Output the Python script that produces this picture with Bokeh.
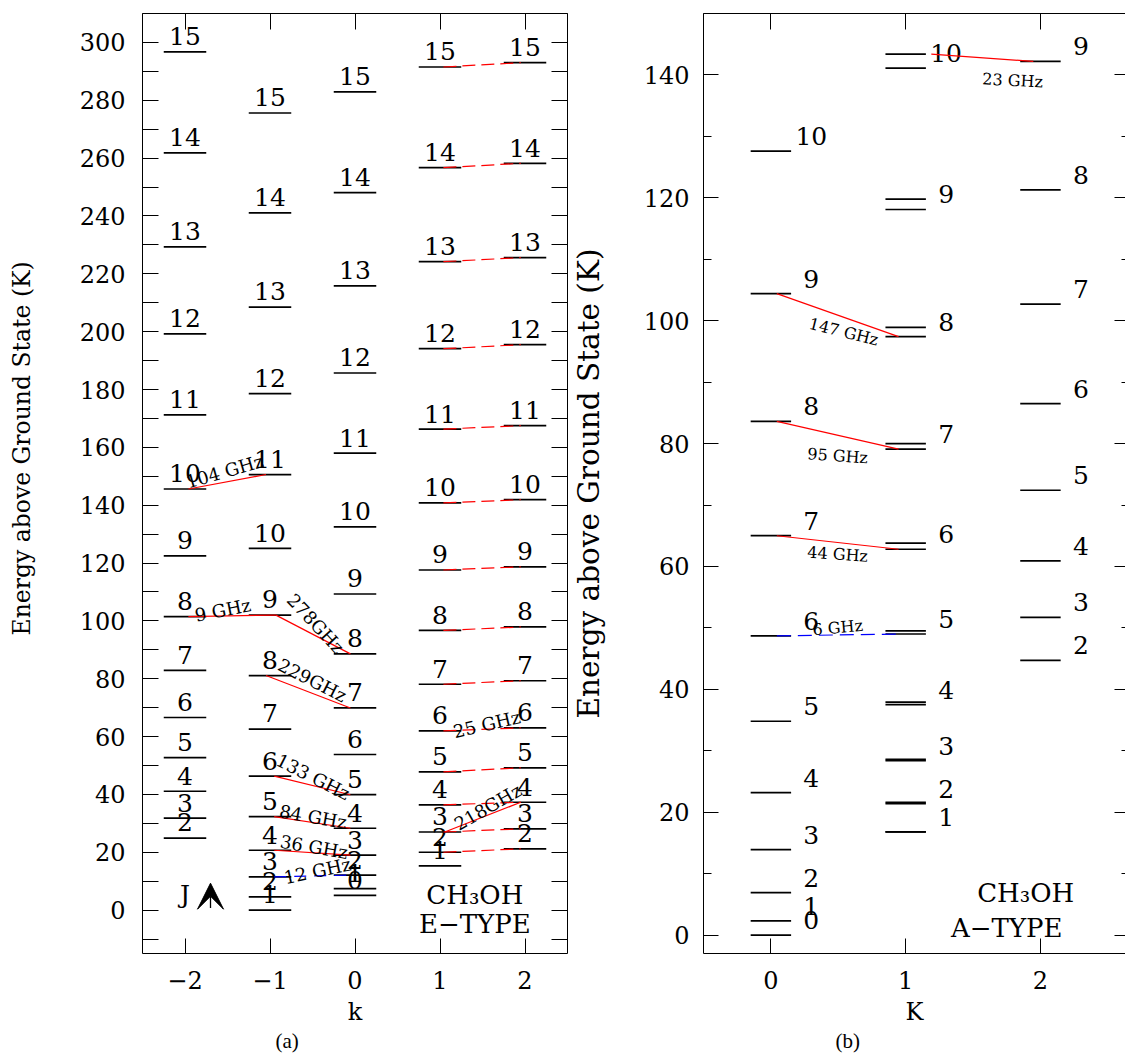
from bokeh.plotting import figure
from bokeh.models import FixedTicker, LinearAxis, Label, Arrow, VeeHead, Range1d, Title
from bokeh.layouts import row
from bokeh.embed import file_html
from bokeh.resources import INLINE
from bokeh.core.properties import value

# ---------------- DATA: panel (a) CH3OH E-type (energy in K) ----------------
e_k_values = [-2, -1, 0, 1, 2]
e_J_first = {-2: 2, -1: 1, 0: 0, 1: 1, 2: 2}
e_levels_km2 = [24.9, 31.8, 41.1, 52.7, 66.6, 82.9, 101.5, 122.5, 145.6, 171.2, 199.2, 229.3, 261.8, 296.7]
e_levels_km1 = [0.0, 4.6, 11.5, 20.7, 32.3, 46.3, 62.6, 81.1, 102.0, 125.1, 150.6, 178.6, 208.5, 241.1, 275.6]
e_levels_k0 = [5.1, 7.4, 12.1, 19.0, 28.3, 39.9, 53.8, 69.9, 88.6, 109.3, 132.5, 158.0, 185.7, 215.8, 248.1, 282.9]
e_levels_k1 = [15.3, 20.0, 27.0, 36.4, 47.8, 62.0, 78.1, 96.7, 117.6, 140.8, 166.3, 194.1, 224.2, 256.7, 291.5]
e_levels_k2 = [21.2, 28.1, 37.3, 49.2, 63.0, 79.3, 97.9, 118.7, 141.9, 167.5, 195.5, 225.6, 258.2, 293.0]
e_levels = {-2: e_levels_km2, -1: e_levels_km1, 0: e_levels_k0, 1: e_levels_k1, 2: e_levels_k2}

# transitions (k_from, J_from) -> (k_to, J_to)
e_trans_labels = ["104 GHz", "9 GHz", "278GHz", "229GHz", "133 GHz", "84 GHz", "36 GHz", "218GHz", "12 GHz"]
e_trans_from = [(-2, 10), (-2, 8), (-1, 9), (-1, 8), (-1, 6), (-1, 5), (-1, 4), (1, 3), (-1, 3)]
e_trans_to = [(-1, 11), (-1, 9), (0, 8), (0, 7), (0, 5), (0, 4), (0, 3), (2, 4), (0, 2)]
e_trans_kind = ["solid", "solid", "solid", "solid", "solid", "solid", "solid", "solid", "blue"]
# J_2 - J_1 E series (25 GHz), k=1 -> k=2
e_series_J = [2, 3, 4, 5, 6, 7, 8, 9, 10, 11, 12, 13, 14, 15]
e_series_label = "25 GHz"
e_series_label_J = 6

# ---------------- DATA: panel (b) CH3OH A-type ----------------
a_K_values = [0, 1, 2]
a_levels_K0 = [0.0, 2.3, 6.9, 13.9, 23.2, 34.8, 48.7, 65.0, 83.6, 104.4, 127.6]          # J = 0..10
a_levels_K1_lo = [16.8, 21.4, 28.4, 37.5, 49.0, 62.8, 79.1, 97.4, 118.1, 141.1]          # J = 1..10
a_levels_K1_hi = [16.8, 21.6, 28.6, 37.9, 49.5, 63.8, 80.0, 98.9, 119.8, 143.4]          # J = 1..10
a_levels_K2 = [44.7, 51.7, 60.9, 72.4, 86.5, 102.7, 121.3, 142.2]                         # J = 2..9
a_J_first = {0: 0, 1: 1, 2: 2}

a_trans_labels = ["23 GHz", "147 GHz", "95 GHz", "44 GHz", "6 GHz"]
a_trans_from = [(1, 10, "hi"), (0, 9, ""), (0, 8, ""), (0, 7, ""), (0, 6, "")]
a_trans_to = [(2, 9, ""), (1, 8, "lo"), (1, 7, "lo"), (1, 6, "lo"), (1, 5, "lo")]
a_trans_kind = ["solid", "solid", "solid", "solid", "blue"]

# ticks
a_y_ticks = [0, 20, 40, 60, 80, 100, 120, 140, 160, 180, 200, 220, 240, 260, 280, 300]
a_y_minor = [-10, 10, 30, 50, 70, 90, 110, 130, 150, 170, 190, 210, 230, 250, 270, 290, 310]
a_x_ticks = [-2, -1, 0, 1, 2]
b_y_ticks = [0, 20, 40, 60, 80, 100, 120, 140]
b_y_minor = [10, 30, 50, 70, 90, 110, 130, 150]
b_x_ticks = [0, 1, 2]

FONT = "DejaVu Serif"
RED = "#ff0000"
BLUE = "#0000ff"
YLABEL = "Energy above Ground State (K)"


def e_energy(k, J):
    return e_levels[k][J - e_J_first[k]]


def a_energy(K, J, which=""):
    if K == 0:
        return a_levels_K0[J - a_J_first[0]]
    if K == 2:
        return a_levels_K2[J - a_J_first[2]]
    arr = a_levels_K1_hi if which == "hi" else a_levels_K1_lo
    return arr[J - a_J_first[1]]


def style_axis(ax, tick_in, minor_in, size, standoff, line=None):
    ax.axis_line_color = line
    ax.major_tick_in = tick_in
    ax.major_tick_out = 0
    ax.minor_tick_in = minor_in
    ax.minor_tick_out = 0
    ax.major_tick_line_color = "black"
    ax.minor_tick_line_color = "black"
    ax.major_tick_line_width = 1
    ax.minor_tick_line_width = 1
    ax.major_label_text_font = FONT
    ax.major_label_text_font_size = size
    ax.major_label_text_color = "black"
    ax.major_label_standoff = standoff


def blank_axis(ticks, minor, tick_in, minor_in, line=None):
    ax = LinearAxis(ticker=FixedTicker(ticks=ticks, minor_ticks=minor))
    style_axis(ax, tick_in, minor_in, "1px", 0, line)
    ax.major_label_overrides = {t: "" for t in ticks}
    return ax


def spacer_axis(ticks, width):
    ax = LinearAxis(ticker=FixedTicker(ticks=ticks[:1], minor_ticks=[]))
    style_axis(ax, 0, 0, "1px", 0, None)
    ax.major_tick_out = width
    ax.major_tick_line_color = None
    ax.major_label_overrides = {ticks[0]: ""}
    return ax


# ======================= PANEL (a) =======================
pa = figure(width=568, height=1057, x_range=Range1d(-2.5, 2.5), y_range=Range1d(-15, 310),
            output_backend="svg", toolbar_location=None,
            min_border_left=139, min_border_right=1, min_border_top=13, min_border_bottom=104)
pa.grid.visible = False
pa.outline_line_color = "black"
pa.outline_line_width = 1
pa.background_fill_color = "white"
pa.border_fill_color = "white"

pa.yaxis.ticker = FixedTicker(ticks=a_y_ticks, minor_ticks=a_y_minor)
pa.xaxis.ticker = FixedTicker(ticks=a_x_ticks, minor_ticks=[])
style_axis(pa.yaxis[0], 16, 16, "24px", 17)
style_axis(pa.xaxis[0], 15, 0, "24px", 17)
pa.xaxis.major_label_overrides = {-2: "\u22122", -1: "\u22121"}
pa.xaxis.axis_label = "k"
pa.xaxis.axis_label_text_font = FONT
pa.xaxis.axis_label_text_font_size = "24px"
pa.xaxis.axis_label_text_font_style = "normal"
pa.xaxis.axis_label_text_color = "black"
pa.xaxis.axis_label_standoff = 6
pa.add_layout(blank_axis(a_y_ticks, a_y_minor, 16, 16), "right")
pa.add_layout(blank_axis(a_x_ticks, [], 16, 0), "above")
pa.add_layout(spacer_axis(a_y_ticks, 36), "left")
pa.add_layout(Title(text=YLABEL, align="left", offset=318, standoff=10, text_font=FONT,
                    text_font_size="23.5px", text_font_style="normal", text_color="black"), "left")
pa.add_layout(Title(text="(a)", align="left", offset=133, standoff=1, vertical_align="top",
                    text_font="Liberation Serif", text_font_size="21px", text_font_style="normal",
                    text_color="black"), "below")

# levels
HW_A = 0.25
lx0, lx1, ly, tx, ty, tt = [], [], [], [], [], []
for k in e_k_values:
    for i, E in enumerate(e_levels[k]):
        J = e_J_first[k] + i
        lx0.append(k - HW_A)
        lx1.append(k + HW_A)
        ly.append(E)
        tx.append(k)
        ty.append(E + 5.4)
        tt.append(str(J))
pa.segment(x0=lx0, y0=ly, x1=lx1, y1=ly, line_color="black", line_width=1.7)
pa.text(x=tx, y=ty, text=tt, text_align="center", text_baseline="middle",
        text_font=value(FONT), text_font_size=value("25px"), text_color="black")

# transitions (line end offsets: layout only)
e_trans_xoff = [(0.04, -0.047), (0.04, 0.07), (0.07, -0.054), (-0.047, -0.054), (0.05, -0.054),
                (0.05, -0.054), (0.05, -0.054), (0.056, -0.05), (0.05, -0.054)]
e_lab_place = [(-0.03, 3.6, 16), (-0.11, 2.0, 11), (0.03, 3.8, -47), (0.05, 4.0, -27), (0.01, 3.0, -27),
               (0.01, 2.0, -10), (0.02, 2.0, -10), (0.06, 3.5, 30), (0.06, 1.8, 12)]
for lab, fr, to, kind, xo, pl in zip(e_trans_labels, e_trans_from, e_trans_to, e_trans_kind,
                                      e_trans_xoff, e_lab_place):
    x0 = fr[0] + xo[0]
    x1 = to[0] + xo[1]
    y0 = e_energy(*fr)
    y1 = e_energy(*to)
    if kind == "blue":
        pa.segment(x0=[x0], y0=[y0], x1=[x1], y1=[y1], line_color=BLUE, line_width=1.2, line_dash="12 8")
    else:
        pa.segment(x0=[x0], y0=[y0], x1=[x1], y1=[y1], line_color=RED, line_width=1.2)
    pa.add_layout(Label(x=(x0 + x1) / 2 + pl[0], y=(y0 + y1) / 2 + pl[1], text=lab, angle=pl[2],
                        angle_units="deg", text_align="center", text_baseline="middle",
                        text_font=FONT, text_font_size="18px", text_color="black"))

sx0, sx1, sy0, sy1 = [], [], [], []
for J in e_series_J:
    sx0.append(1 + 0.04)
    sx1.append(2 - 0.05)
    sy0.append(e_energy(1, J))
    sy1.append(e_energy(2, J))
pa.segment(x0=sx0, y0=sy0, x1=sx1, y1=sy1, line_color=RED, line_width=1.2, line_dash="13 6")
ys0 = e_energy(1, e_series_label_J)
ys1 = e_energy(2, e_series_label_J)
pa.add_layout(Label(x=1.495 + 0.056, y=(ys0 + ys1) / 2 + 1.8, text=e_series_label, angle=13,
                    angle_units="deg", text_align="center", text_baseline="middle",
                    text_font=FONT, text_font_size="18px", text_color="black"))

# annotations
pa.add_layout(Label(x=-2, y=5.4, text="J", text_align="center", text_baseline="middle",
                    text_font=FONT, text_font_size="25px", text_color="black"))
pa.add_layout(Arrow(end=VeeHead(size=26, fill_color="black", line_color="black"),
                    x_start=-1.70, y_start=0.7, x_end=-1.70, y_end=9.3,
                    line_color="black", line_width=1.3))
pa.add_layout(Label(x=1.41, y=5.3, text="CH\u2083OH", text_align="center", text_baseline="middle",
                    text_font=FONT, text_font_size="26px", text_color="black"))
pa.add_layout(Label(x=1.41, y=-4.8, text="E\u2212TYPE", text_align="center", text_baseline="middle",
                    text_font=FONT, text_font_size="26px", text_color="black"))

# ======================= PANEL (b) =======================
pb = figure(width=557, height=1057, x_range=Range1d(-0.5, 2.631), y_range=Range1d(-3, 150),
            output_backend="svg", toolbar_location=None,
            min_border_left=129, min_border_right=0, min_border_top=13, min_border_bottom=104)
pb.grid.visible = False
pb.outline_line_color = None
pb.background_fill_color = "white"
pb.border_fill_color = "white"

pb.yaxis.ticker = FixedTicker(ticks=b_y_ticks, minor_ticks=b_y_minor)
pb.xaxis.ticker = FixedTicker(ticks=b_x_ticks, minor_ticks=[])
style_axis(pb.yaxis[0], 15, 8, "24px", 14, "black")
style_axis(pb.xaxis[0], 15, 0, "24px", 17, "black")
pb.yaxis.axis_label = YLABEL
pb.yaxis.axis_label_text_font = FONT
pb.yaxis.axis_label_text_font_size = "29.5px"
pb.yaxis.axis_label_text_font_style = "normal"
pb.yaxis.axis_label_text_color = "black"
pb.yaxis.axis_label_standoff = 35
pb.xaxis.axis_label = "K"
pb.xaxis.axis_label_text_font = FONT
pb.xaxis.axis_label_text_font_size = "24px"
pb.xaxis.axis_label_text_font_style = "normal"
pb.xaxis.axis_label_text_color = "black"
pb.xaxis.axis_label_standoff = 6
pb.add_layout(blank_axis(b_y_ticks, b_y_minor, 11, 4), "right")
pb.add_layout(blank_axis(b_x_ticks, [], 16, 0, "black"), "above")
pb.add_layout(Title(text="(b)", align="left", offset=132, standoff=1, vertical_align="top",
                    text_font="Liberation Serif", text_font_size="21px", text_font_style="normal",
                    text_color="black"), "below")

HW_B = 0.15
bx0, bx1, by, btx, bty, btt = [], [], [], [], [], []
for K in a_K_values:
    if K == 1:
        for i, (lo, hi) in enumerate(zip(a_levels_K1_lo, a_levels_K1_hi)):
            for E in (lo, hi):
                bx0.append(K - HW_B)
                bx1.append(K + HW_B)
                by.append(E)
            btx.append(K + 0.30)
            bty.append(min(lo, hi) + 2.44)
            btt.append(str(a_J_first[1] + i))
    else:
        arr = a_levels_K0 if K == 0 else a_levels_K2
        for i, E in enumerate(arr):
            bx0.append(K - HW_B)
            bx1.append(K + HW_B)
            by.append(E)
            btx.append(K + 0.30)
            bty.append(E + 2.44)
            btt.append(str(a_J_first[K] + i))
pb.segment(x0=bx0, y0=by, x1=bx1, y1=by, line_color="black", line_width=1.7)
pb.text(x=btx, y=bty, text=btt, text_align="center", text_baseline="middle",
        text_font=value(FONT), text_font_size=value("25px"), text_color="black")

a_trans_xoff = [(0.19, -0.053), (0.044, -0.053), (0.044, -0.053), (0.044, -0.053), (0.044, -0.053)]
a_lab_place = [(0.225, -3.7, -3), (0.045, -2.7, -14), (0.0, -3.35, -4), (0.0, -1.9, -4), (0.0, 1.2, 5)]
for lab, fr, to, kind, xo, pl in zip(a_trans_labels, a_trans_from, a_trans_to, a_trans_kind,
                                      a_trans_xoff, a_lab_place):
    x0 = fr[0] + xo[0]
    x1 = to[0] + xo[1]
    y0 = a_energy(*fr)
    y1 = a_energy(*to)
    if kind == "blue":
        pb.segment(x0=[x0], y0=[y0], x1=[x1], y1=[y1], line_color=BLUE, line_width=1.2, line_dash="14 7")
    else:
        pb.segment(x0=[x0], y0=[y0], x1=[x1], y1=[y1], line_color=RED, line_width=1.2)
    pb.add_layout(Label(x=(x0 + x1) / 2 + pl[0], y=(y0 + y1) / 2 + pl[1], text=lab, angle=pl[2],
                        angle_units="deg", text_align="center", text_baseline="middle",
                        text_font=FONT, text_font_size="16px", text_color="black"))

pb.add_layout(Label(x=1.89, y=6.9, text="CH\u2083OH", text_align="center", text_baseline="middle",
                    text_font=FONT, text_font_size="26px", text_color="black"))
pb.add_layout(Label(x=1.75, y=1.2, text="A\u2212TYPE", text_align="center", text_baseline="middle",
                    text_font=FONT, text_font_size="26px", text_color="black"))

layout = row(pa, pb)
open("out.html", "w").write(file_html(layout, INLINE))
